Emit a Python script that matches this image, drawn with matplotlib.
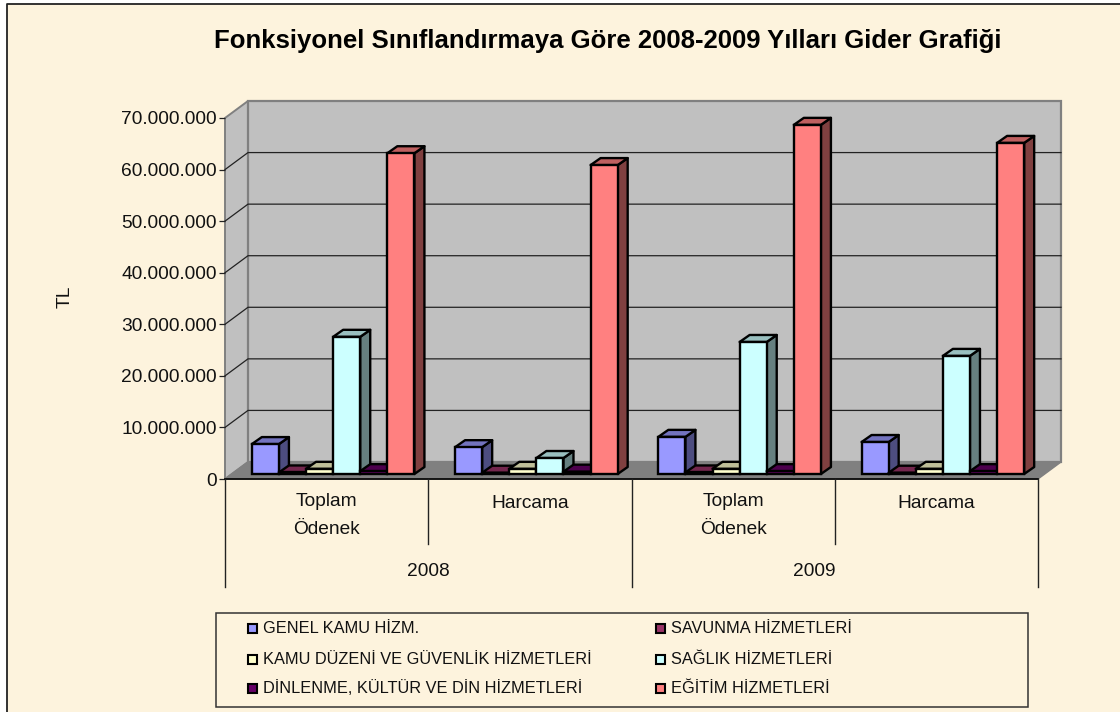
#!/usr/bin/env python3
import matplotlib
matplotlib.use('Agg')
import matplotlib.pyplot as plt
from matplotlib.patches import Polygon, Rectangle

plt.rcParams['font.family'] = ['Liberation Sans', 'DejaVu Sans']

W, H = 1120, 712

title = 'Fonksiyonel Sınıflandırmaya Göre 2008-2009 Yılları Gider Grafiği'
y_ticks = [0, 10000000, 20000000, 30000000, 40000000, 50000000, 60000000, 70000000]
y_labels = ['0', '10.000.000', '20.000.000', '30.000.000', '40.000.000',
            '50.000.000', '60.000.000', '70.000.000']
categories = ['Toplam\nÖdenek', 'Harcama', 'Toplam\nÖdenek', 'Harcama']
years = ['2008', '2009']

series_names = ['GENEL KAMU HİZM.', 'SAVUNMA HİZMETLERİ',
                'KAMU DÜZENİ VE GÜVENLİK HİZMETLERİ', 'SAĞLIK HİZMETLERİ',
                'DİNLENME, KÜLTÜR VE DİN HİZMETLERİ', 'EĞİTİM HİZMETLERİ']
colors = ['#9999FF', '#993366', '#FFFFCC', '#CCFFFF', '#660066', '#FF8080']

genel = [5800000, 5200000, 7200000, 6200000]
savunma = [300000, 250000, 300000, 250000]
kamu_duzeni = [1000000, 1000000, 1000000, 1000000]
saglik = [26600000, 3100000, 25600000, 22900000]
dinlenme = [550000, 450000, 550000, 550000]
egitim = [62200000, 59900000, 67700000, 64200000]
series = [genel, savunma, kamu_duzeni, saglik, dinlenme, egitim]

BG = '#FDF3DD'
TXT = '#111111'
FS = 13.8


def shade(c, f):
    return tuple(v * f for v in matplotlib.colors.to_rgb(c))


fig = plt.figure(figsize=(W / 100, H / 100), dpi=100, facecolor='white')

# everything outside the plot is placed in pixels of the original
over = fig.add_axes([0, 0, 1, 1], zorder=0)
over.set_xlim(0, W)
over.set_ylim(H, 0)
over.axis('off')
over.add_patch(Rectangle((7, 4), W - 7, H - 4, fc=BG, ec='none'))
over.plot([7, 7, W], [H, 4, 4], color='#222222', lw=1.3)

x0, x1, y0, y1 = 225, 1038, 479, 118
ax = fig.add_axes([x0 / W, (H - y0) / H, (x1 - x0) / W, (y0 - y1) / H], zorder=1)
ax.set_xlim(0, 4)
ax.set_ylim(0, 70000000)
ax.patch.set_visible(False)
for s in ax.spines.values():
    s.set_visible(False)

# pixels to data units
px = 4 / (x1 - x0)
py = 70000000 / (y0 - y1)
wall_dx, wall_dy = 23 * px, 17 * py
bar_dx, bar_dy = 10 * px, 7 * py
off_x, off_y = 6.5 * px, 5 * py
bar_w = 0.8 / 6

# walls and floor
ymax = y_ticks[-1]
ax.add_patch(Polygon([(0, 0), (wall_dx, wall_dy), (wall_dx, ymax + wall_dy), (0, ymax)],
                     fc='#C0C0C0', ec='#808080', lw=1.4, clip_on=False, zorder=1))
ax.add_patch(Rectangle((wall_dx, wall_dy), 4, ymax, fc='#C0C0C0', ec='#808080', lw=1.6,
                       clip_on=False, zorder=1))
ax.add_patch(Polygon([(0, 0), (wall_dx, wall_dy), (4 + wall_dx, wall_dy), (4, 0)],
                     fc='#808080', ec='#808080', lw=1, clip_on=False, zorder=2))
for t in y_ticks[1:-1]:
    ax.plot([0, wall_dx, 4 + wall_dx], [t, t + wall_dy, t + wall_dy], color='#222222',
            lw=0.9, clip_on=False, zorder=2)

# bars, left to right so the later ones cover the earlier sides
z = 3
for g in range(4):
    for i, vals in enumerate(series):
        left = g + 0.1 + i * bar_w + off_x
        base = off_y
        top = base + vals[g]
        right = left + bar_w
        c = colors[i]
        ax.add_patch(Polygon([(right, base), (right + bar_dx, base + bar_dy),
                              (right + bar_dx, top + bar_dy), (right, top)],
                             fc=shade(c, 0.5), ec='black', lw=1.7, joinstyle='round',
                             clip_on=False, zorder=z))
        ax.add_patch(Polygon([(left, top), (left + bar_dx, top + bar_dy),
                              (right + bar_dx, top + bar_dy), (right, top)],
                             fc=shade(c, 0.75), ec='black', lw=1.7, joinstyle='round',
                             clip_on=False, zorder=z))
        ax.bar(left, vals[g], bar_w, bottom=base, align='edge', color=c, edgecolor='black',
               lw=1.7, clip_on=False, zorder=z)
        z += 1

ax.set_yticks(y_ticks)
ax.set_yticklabels(y_labels, fontsize=FS, color=TXT)
ax.tick_params(axis='y', length=4, width=0.9, color='#222222', pad=2)
ax.set_xticks([])

# two level category axis
ax.plot([0, 4], [0, 0], color='black', lw=1.2, clip_on=False, zorder=z)
for x, ln in zip([0, 1, 2, 3, 4], [108, 65, 108, 65, 108]):
    ax.plot([x, x], [0, -ln * py], color='#222222', lw=1, clip_on=False, zorder=z)
for g, lab in enumerate(categories):
    parts = lab.split('\n')
    ys = [503] if len(parts) == 1 else [502, 530]
    for p, yy in zip(parts, ys):
        ax.text(g + 0.5, -(yy - y0) * py, p, ha='center', va='center', fontsize=FS,
                color=TXT, clip_on=False)
ax.text(1, -(572 - y0) * py, years[0], ha='center', va='center', fontsize=FS, color=TXT)
ax.text(2.9, -(572 - y0) * py, years[1], ha='center', va='center', fontsize=FS, color=TXT)

over.text(608, 41, title, ha='center', va='center', fontsize=18.5, fontweight='bold', color='black')
over.text(65, 297, 'TL', rotation=90, ha='center', va='center', fontsize=FS, color=TXT)

# legend box
over.add_patch(Rectangle((216, 613), 812, 94, fc='none', ec='#333333', lw=1.1))
leg_x = [248, 656]
leg_y = [628, 659, 688]
for i, name in enumerate(series_names):
    lx, ly = leg_x[i % 2], leg_y[i // 2]
    over.add_patch(Rectangle((lx, ly - 4.5), 9, 9, fc=colors[i], ec='black', lw=1.5))
    over.text(lx + 15, ly + 0.5, name, ha='left', va='center', fontsize=11.8, color=TXT)

fig.savefig('out.png', dpi=100, facecolor='white')
